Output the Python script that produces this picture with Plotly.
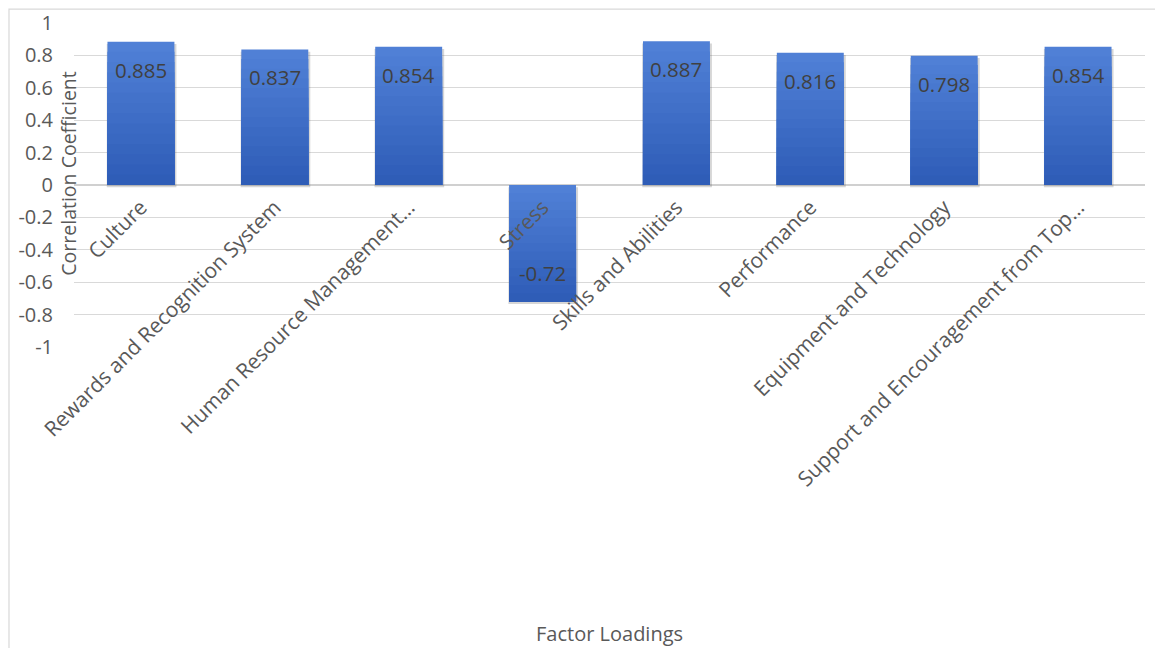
import plotly.graph_objects as go

# Factor loadings (correlation coefficients) per factor
categories = [
    "Culture",
    "Rewards and Recognition System",
    "Human Resource Management…",
    "Stress",
    "Skills and Abilities",
    "Performance",
    "Equipment and Technology",
    "Support and Encouragement from Top…",
]
values = [0.885, 0.837, 0.854, -0.72, 0.887, 0.816, 0.798, 0.854]
y_ticks = [1, 0.8, 0.6, 0.4, 0.2, 0, -0.2, -0.4, -0.6, -0.8, -1]
y_tick_text = ["1", "0.8", "0.6", "0.4", "0.2", "0", "-0.2", "-0.4", "-0.6", "-0.8", "-1"]

FONT = "'Open Sans', sans-serif"
TEXT = "#595959"

fig = go.Figure()

# soft drop shadow under each bar
lows = [min(0, v) for v in values]
spans = [abs(v) for v in values]
fig.add_trace(go.Bar(
    x=categories, y=spans, base=[l - 0.014 for l in lows],
    marker=dict(color="rgba(90,90,90,0.25)", line=dict(width=0)),
    width=0.52, offset=-0.255, hoverinfo="skip", showlegend=False,
))

# vertical gradient: lighter at the top edge, darker toward the bottom edge
n_steps = 14
top_rgb = (80, 128, 214)
bot_rgb = (44, 90, 181)
for i in range(n_steps):
    f = i / n_steps
    r = round(top_rgb[0] + (bot_rgb[0] - top_rgb[0]) * f)
    g = round(top_rgb[1] + (bot_rgb[1] - top_rgb[1]) * f)
    b = round(top_rgb[2] + (bot_rgb[2] - top_rgb[2]) * f)
    fig.add_trace(go.Bar(
        x=categories,
        y=[s * (1 - f) for s in spans],
        base=lows,
        marker=dict(color=f"rgb({r},{g},{b})", line=dict(width=0)),
        width=0.5, hoverinfo="skip", showlegend=False,
    ))

# value labels inside the bar ends
for c, v in zip(categories, values):
    fig.add_annotation(
        x=c, y=v, xref="x", yref="y", text=f"{v:g}", showarrow=False,
        yshift=-28 if v >= 0 else 29, yanchor="middle",
        font=dict(family=FONT, size=20.5, color="#404040"),
    )

# y-axis title
fig.add_annotation(
    x=0, y=0.535, xref="paper", yref="paper", xshift=-5,
    text="Correlation Coefficient", textangle=-90, showarrow=False,
    xanchor="center", yanchor="middle",
    font=dict(family=FONT, size=19.5, color=TEXT),
)

# x-axis title
fig.add_annotation(
    x=0.5, y=-0.885, xref="paper", yref="paper",
    text="Factor Loadings", showarrow=False, xanchor="center", yanchor="middle",
    font=dict(family=FONT, size=20, color=TEXT),
)

# chart frame
fig.add_shape(
    type="rect", xref="paper", yref="paper",
    x0=-0.0607, x1=1.08, y0=-1.2, y1=1.043,
    line=dict(color="#d9d9d9", width=1.2), fillcolor="rgba(0,0,0,0)", layer="below",
)

fig.update_layout(
    width=1155, height=648,
    margin=dict(l=74, r=10, t=23, b=301),
    paper_bgcolor="white", plot_bgcolor="white",
    barmode="overlay", bargap=0.5,
    showlegend=False,
    xaxis=dict(
        type="category",
        anchor="free", position=0.5,
        tickangle=-45, tickfont=dict(family=FONT, size=21, color=TEXT),
        showgrid=False, showline=False, zeroline=False, ticks="",
        ticklabelstandoff=5,
    ),
    yaxis=dict(
        range=[-1, 1], tickvals=y_ticks, ticktext=y_tick_text,
        tickfont=dict(family=FONT, size=20, color=TEXT),
        showgrid=True, gridcolor="#d9d9d9", gridwidth=1,
        zeroline=True, zerolinecolor="#d0d0d0", zerolinewidth=2,
        showline=False, ticks="", ticklabelstandoff=20,
    ),
)

fig.write_html("out.html")
